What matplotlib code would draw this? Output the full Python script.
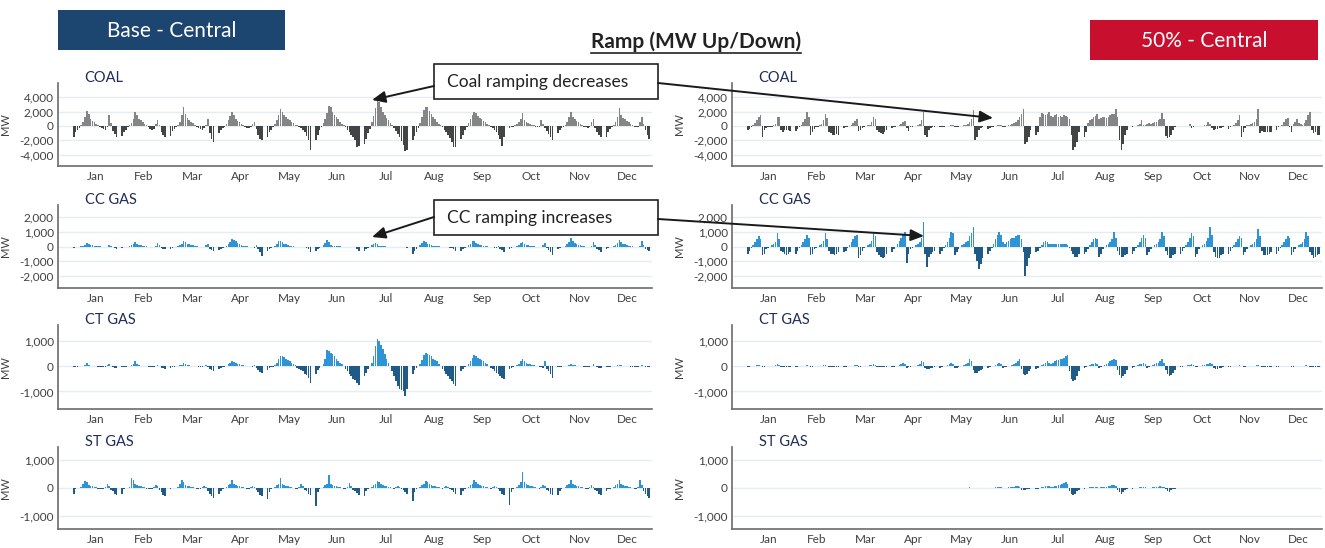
import numpy as np
import matplotlib
matplotlib.use("Agg")
import matplotlib.pyplot as plt
from matplotlib.patches import Rectangle
from matplotlib.ticker import FuncFormatter

plt.rcParams['font.family'] = ['Lato', 'DejaVu Sans']

# Month labels and average hourly ramp (MW), one row of 24 hours per month
months = ['Jan', 'Feb', 'Mar', 'Apr', 'May', 'Jun', 'Jul', 'Aug', 'Sep', 'Oct', 'Nov', 'Dec']

base_coal = [
    [-1500,-900,-600,-300,200,500,1200,2100,1600,900,700,500,300,200,-100,-300,-400,-500,-200,1500,400,-700,-1100,-1600],
    [-1400,-800,-500,-200,100,400,1000,2000,1500,1000,800,600,300,100,-200,-400,-500,-400,300,800,200,-800,-1200,-1500],
    [-1400,-700,-400,-200,200,600,1500,2700,1700,1100,800,600,400,200,-100,-300,-400,-500,-300,200,1000,-1000,-1800,-2300],
    [-1000,-600,-300,-100,300,800,1400,2000,1500,1000,700,500,300,100,-200,-300,-300,-200,300,500,-400,-1200,-1800,-2000],
    [-1600,-900,-500,-200,300,800,1500,2300,1900,1500,1200,1000,800,600,400,200,100,-100,-300,-500,-900,-1400,-2000,-3300],
    [-2000,-1200,-600,-200,400,1000,1800,2800,2600,2000,1500,1200,900,600,300,100,-200,-500,-800,-1200,-1600,-2000,-3000,-2800],
    [-2500,-1800,-1000,-400,500,1400,2500,3600,3300,2600,1900,1500,1100,800,400,100,-300,-700,-1100,-1600,-2100,-2700,-3500,-3300],
    [-2000,-1400,-800,-300,400,1200,2200,2600,2600,2100,1600,1200,900,600,300,100,-200,-500,-900,-1300,-1700,-2200,-3000,-2900],
    [-1800,-1200,-600,-200,400,1000,1500,2000,1800,1400,1100,900,700,500,300,100,-100,-300,-600,-900,-1300,-1800,-2800,-1500],
    [-300,-200,-100,100,300,500,1000,1800,800,600,400,300,200,100,-100,-200,-200,800,300,-300,-700,-1100,-1500,-2000],
    [-1000,-600,-300,-100,200,600,1200,1900,1300,900,700,500,300,200,-100,-200,-300,-200,500,900,-300,-800,-1200,-1500],
    [-1500,-800,-400,-200,200,600,1300,2500,1500,1100,900,700,500,300,100,-100,-200,-100,600,1200,300,-600,-1200,-1800],
]

base_cc = [
    [-100,-60,-40,-20,20,60,120,220,150,100,80,60,40,30,10,-10,-30,-40,-20,80,40,-60,-100,-150],
    [-120,-60,-40,-20,30,80,160,300,200,120,90,60,40,20,-20,-40,-60,-60,60,250,80,-100,-160,-200],
    [-200,-100,-50,-20,40,100,200,400,300,200,150,100,80,50,20,-10,-40,-60,-40,100,200,-150,-250,-300],
    [-250,-150,-80,-30,50,150,300,500,450,350,250,150,100,50,30,10,-20,-40,-60,-80,100,-200,-400,-650],
    [-300,-200,-100,-50,50,200,350,400,300,200,150,100,60,30,10,0,-10,-20,-30,-40,-60,-100,-200,-400],
    [-300,-200,-100,0,100,250,450,300,100,40,20,10,10,10,0,0,0,0,0,-10,-30,-60,-150,-300],
    [-300,-200,-100,0,80,150,250,150,50,20,10,10,0,0,0,0,0,0,0,-10,-20,-40,-60,-100],
    [-500,-300,-150,-50,100,250,400,300,200,150,100,60,30,20,10,0,-10,-20,-30,-50,-80,-120,-200,-300],
    [-300,-200,-100,-30,80,200,400,350,250,180,120,80,50,30,10,-10,-30,-50,-80,-100,50,-150,-250,-400],
    [-200,-120,-60,-20,40,120,250,300,200,120,80,50,30,10,-10,-30,-50,-60,100,250,-100,-250,-400,-600],
    [-200,-120,-60,-20,50,150,300,600,400,250,180,120,80,50,20,-10,-40,-60,50,300,100,-150,-250,-350],
    [-200,-120,-60,-20,50,130,250,450,300,200,150,100,60,30,10,-20,-40,-60,50,350,100,-150,-250,-300],
]

base_ct = [
    [-40,-20,-10,0,10,30,60,120,60,30,20,10,0,-10,-20,-30,-20,-10,40,100,20,-40,-60,-80],
    [-40,-20,-10,0,20,50,100,200,80,40,30,20,10,0,-20,-30,-40,-30,20,60,20,-50,-80,-120],
    [-50,-20,-10,0,20,40,70,130,90,60,40,30,20,10,0,-10,-20,-30,10,50,-40,-100,-150,-200],
    [-100,-60,-30,-10,30,80,150,200,170,140,100,80,60,40,30,20,10,0,-20,60,-60,-150,-220,-250],
    [-150,-80,-40,-10,50,150,300,400,400,380,300,250,200,150,100,50,-50,-100,-150,-200,-300,-350,-450,-650],
    [-300,-150,-60,0,100,300,650,600,550,500,400,300,200,150,100,0,-100,-200,-300,-400,-500,-550,-650,-750],
    [-400,-250,-100,0,150,400,800,1100,1000,850,700,500,300,150,0,-200,-400,-600,-800,-900,-950,-1000,-1200,-900],
    [-300,-150,-60,0,100,250,450,550,500,450,400,300,250,200,100,0,-100,-200,-300,-400,-500,-600,-700,-800],
    [-200,-100,-40,0,80,200,350,450,400,350,300,250,200,150,80,0,-60,-120,-200,-260,-320,-380,-450,-500],
    [-100,-60,-20,0,40,100,200,300,200,150,100,80,60,40,20,0,-20,-40,-80,200,-100,-200,-300,-450],
    [-40,-20,-10,0,10,30,60,100,60,40,30,20,10,0,-10,-20,-30,-20,20,80,20,-30,-50,-60],
    [-30,-20,-10,0,10,20,40,60,40,30,20,10,0,-10,-10,-20,-20,-10,10,40,10,-20,-30,-40],
]

base_st = [
    [-200,-20,-10,0,30,150,250,200,100,80,60,40,20,-20,-40,-50,-30,50,150,80,-60,-120,-200,-250],
    [-200,-30,-10,0,40,350,300,150,100,80,60,40,20,-20,-30,-40,-20,40,120,60,-80,-150,-250,-300],
    [-30,-10,-10,0,30,150,300,200,120,80,60,40,20,-10,-30,-40,-30,30,80,40,-100,-200,-300,-350],
    [-200,-100,-40,0,50,100,150,300,150,100,80,60,40,20,0,-20,-30,20,80,40,-80,-150,-250,-300],
    [-400,-150,-50,0,50,100,150,350,150,100,80,60,40,20,0,-20,-30,20,150,80,-60,-100,-200,-250],
    [-650,-150,-50,0,50,100,150,450,150,100,80,60,40,20,0,-20,-30,20,180,80,-60,-100,-180,-250],
    [-300,-120,-50,0,50,100,150,250,200,150,100,80,60,40,20,0,-20,20,60,40,-40,-80,-150,-200],
    [-450,-150,-50,0,50,100,150,250,200,150,100,80,60,40,20,0,-20,20,60,40,-40,-80,-150,-200],
    [-250,-100,-40,0,40,100,150,300,200,150,100,80,60,40,20,0,-20,20,80,50,-50,-100,-200,-250],
    [-600,-150,-50,0,50,100,200,550,200,150,100,80,60,40,20,0,-20,20,100,60,-60,-120,-200,-250],
    [-250,-100,-40,0,40,100,150,300,150,100,80,60,40,20,0,-20,-30,20,100,50,-60,-120,-200,-250],
    [-100,-50,-20,0,40,100,150,300,150,100,80,60,40,20,0,-20,-30,20,300,100,-100,-200,-300,-350],
]

half_coal = [
    [-600,-400,-200,100,400,800,1300,1500,-1500,-600,-300,-200,-100,-100,100,300,1200,1300,-500,-800,-600,-500,-600,-700],
    [-700,-400,-200,100,500,1000,2000,1200,-1300,-800,-400,-200,-100,100,300,800,1700,1100,-900,-1000,-1200,-1200,-1100,-1200],
    [-300,-200,-100,0,200,400,700,1000,-700,-500,-300,-100,0,100,200,500,1200,900,-600,-900,-1000,-1100,-800,-600],
    [-300,-200,-100,0,100,300,500,700,-300,-700,-200,-100,0,50,100,300,800,2000,-1300,-1500,-600,-300,-200,-100],
    [-200,-150,-100,-50,0,50,100,200,-100,-200,-100,0,50,100,200,300,500,1000,2200,-2000,-1500,-500,-300,-200],
    [-400,-300,-200,-100,0,100,100,200,-200,-100,0,100,200,300,400,600,800,1200,1600,2300,-2500,-2300,-1500,-500],
    [-1200,-800,1200,1800,1600,1500,1700,2000,1400,1300,1500,1600,1200,1400,1300,1500,1400,1200,1000,-1300,-3400,-3000,-2200,-800],
    [-1500,-800,400,800,1000,1200,1400,1700,1000,1100,1300,1200,1100,1300,1500,1700,1600,2300,1200,-2000,-3300,-2500,-1200,-500],
    [-100,-50,50,100,300,800,200,100,300,400,300,400,500,600,800,1000,1800,900,-1400,-1700,-1600,-1200,-600,-200],
    [-30,-20,0,20,60,250,-300,-150,-50,0,20,40,60,100,200,600,300,-300,-500,-450,-400,-350,-300,-200],
    [-400,-200,0,200,400,800,1500,-1600,-800,-300,100,200,300,400,500,1000,2400,-1000,-700,-900,-800,-900,-800,-900],
    [-500,-200,0,200,600,900,1100,-200,-800,300,600,1000,400,300,200,400,800,1500,2000,-600,-1000,-900,-1200,-1300],
]

half_cc = [
    [-500,-300,-100,100,300,500,700,500,-600,-500,-200,-100,0,100,200,300,900,500,-300,-400,-500,-600,-500,-400],
    [-500,-300,-100,100,300,500,800,600,-600,-500,-200,-100,0,100,200,400,900,500,-300,-500,-500,-600,-500,-400],
    [-400,-300,-100,100,300,500,700,800,-800,-600,-300,-100,0,100,200,400,1000,700,-400,-600,-700,-800,-700,-500],
    [-400,-200,0,200,400,600,800,1000,-1100,-500,-200,-100,0,100,200,300,600,1650,-500,-1350,-700,-500,-400,-300],
    [-500,-300,-100,100,300,600,1000,900,-600,-400,-200,0,100,200,300,400,700,900,1300,-500,-1000,-1500,-1200,-800],
    [-500,-300,-100,200,500,800,950,800,300,200,300,400,500,600,600,700,800,800,500,-400,-2000,-1300,-800,-500],
    [-400,-300,-100,100,300,400,300,200,200,200,150,150,200,200,150,150,200,100,-100,-300,-500,-700,-700,-500],
    [-500,-400,-200,100,300,500,600,500,-700,-500,-200,0,100,200,300,500,1000,600,-300,-600,-700,-700,-600,-500],
    [-500,-300,-100,100,300,600,800,600,-600,-400,-200,0,100,200,300,500,1000,700,-300,-600,-800,-800,-600,-500],
    [-500,-300,-100,100,300,600,900,700,-700,-500,-200,0,100,200,400,600,1300,800,-400,-700,-800,-800,-600,-500],
    [-500,-300,-100,100,300,500,700,600,-600,-400,-200,0,100,200,300,500,1200,700,-300,-600,-600,-600,-500,-400],
    [-500,-300,-100,100,300,500,700,600,-600,-400,-200,0,100,200,300,500,1000,700,-400,-600,-800,-700,-600,-500],
]

half_ct = [
    [-20,-10,0,10,20,40,60,30,-20,-10,0,10,10,20,30,50,80,40,-20,-30,-40,-30,-20,-10],
    [-20,-10,0,10,20,30,50,30,-20,-10,0,10,10,20,30,40,60,30,-20,-30,-30,-30,-20,-10],
    [-20,-10,0,10,20,30,50,40,-30,-20,0,10,10,20,40,60,100,50,-30,-40,-40,-30,-20,-10],
    [-40,-20,0,20,40,80,120,80,-60,-40,-20,0,10,20,40,80,200,180,-60,-100,-100,-80,-60,-40],
    [-60,-40,0,20,60,100,150,100,-80,-60,-20,0,20,40,80,150,300,200,-150,-250,-250,-200,-150,-100],
    [-60,-40,0,20,60,100,120,100,-60,-40,-20,0,20,40,80,120,200,300,-100,-300,-350,-300,-200,-100],
    [-100,-50,0,50,100,150,200,150,100,150,200,250,250,300,300,350,400,450,-200,-500,-600,-550,-400,-200],
    [-80,-40,0,40,80,100,150,100,-50,-20,30,60,100,150,200,250,300,250,-150,-350,-450,-400,-300,-150],
    [-80,-40,0,40,80,100,150,100,-50,-20,20,50,80,120,150,200,300,150,-150,-300,-400,-350,-250,-150],
    [-40,-20,0,20,40,60,80,60,-40,-20,0,20,40,60,80,100,150,80,-60,-100,-100,-80,-60,-40],
    [-20,-10,0,10,20,30,40,30,-20,-10,0,10,10,20,30,40,60,30,-20,-30,-30,-20,-20,-10],
    [-10,-10,0,10,10,20,30,20,-10,-10,0,10,10,10,20,30,40,20,-10,-20,-20,-20,-10,-10],
]

half_st = [
    [0,0,0,5,5,10,10,5,-5,0,0,0,0,5,5,10,15,10,-5,-10,-10,-5,0,0],
    [0,0,0,5,5,10,10,5,-5,0,0,0,0,5,5,10,15,10,-5,-10,-10,-5,0,0],
    [0,0,0,5,5,10,10,5,-5,0,0,0,0,5,5,10,10,10,-5,-10,-10,-5,0,0],
    [0,0,0,5,5,10,10,5,-5,0,0,0,0,5,5,10,15,10,-5,-10,-10,-5,0,0],
    [0,0,0,5,10,10,15,10,-5,0,0,5,5,10,10,15,20,10,-10,-15,-10,-5,0,0],
    [-10,-5,0,10,20,30,40,30,-10,0,10,20,30,40,50,60,80,40,-60,-80,-60,-40,-20,-10],
    [-40,-20,0,20,40,60,80,60,20,40,60,80,100,120,150,180,200,150,-100,-200,-250,-200,-120,-60],
    [-20,-10,0,20,30,40,50,30,0,20,30,40,50,60,80,100,120,80,-60,-150,-200,-150,-80,-40],
    [-20,-10,0,10,20,30,40,20,-10,0,10,20,30,40,50,60,50,30,-50,-100,-150,-80,-40,-20],
    [0,0,0,5,5,10,10,5,-5,0,0,0,0,5,5,10,10,10,-5,-10,-10,-5,0,0],
    [0,0,0,5,5,10,15,10,-5,0,0,0,5,5,10,10,15,10,-5,-10,-10,-5,0,0],
    [0,0,0,5,5,10,10,5,-5,0,0,0,0,5,5,10,10,10,-5,-10,-10,-5,0,0],
]

row_titles = ['COAL', 'CC GAS', 'CT GAS', 'ST GAS']
row_ticks = [[-4000, -2000, 0, 2000, 4000], [-2000, -1000, 0, 1000, 2000],
             [-1000, 0, 1000], [-1000, 0, 1000]]
row_ylims = [(-5600, 6000), (-2800, 2800), (-1700, 1650), (-1450, 1450)]

W, H = 1325, 548
fig = plt.figure(figsize=(W / 100, H / 100), dpi=100)

def px_axes(x0, y_top, x1, y_bot):
    return fig.add_axes([x0 / W, 1 - y_bot / H, (x1 - x0) / W, (y_bot - y_top) / H])

slot = 26
row_px = [(83, 166), (205, 288), (325, 409), (447, 529)]
col_px = [(58, 652), (732, 1322)]

grey_pos, grey_neg = '#858585', '#444444'
blue_pos, blue_neg = '#2e94d6', '#1f5b86'

panels = [[base_coal, base_cc, base_ct, base_st], [half_coal, half_cc, half_ct, half_st]]

for c, (cx0, cx1) in enumerate(col_px):
    for r, (ry0, ry1) in enumerate(row_px):
        ax = px_axes(cx0, ry0, cx1, ry1)
        data = np.array(panels[c][r], dtype=float)
        x = np.array([m * slot + h for m in range(12) for h in range(24)])
        y = data.ravel()
        if r == 0:
            cols = np.where(y >= 0, grey_pos, grey_neg)
        else:
            cols = np.where(y >= 0, blue_pos, blue_neg)
        ax.bar(x, y, width=0.85, color=cols, linewidth=0, zorder=3)
        ax.set_xlim(-8.5, 310.5)
        ax.set_ylim(*row_ylims[r])
        ax.set_yticks(row_ticks[r])
        ax.yaxis.set_major_formatter(FuncFormatter(lambda v, p: f'{v:,.0f}'))
        ax.set_xticks([m * slot + 11.5 for m in range(12)])
        ax.set_xticklabels(months)
        ax.tick_params(axis='both', length=0, labelsize=8.5, colors='#404040', pad=3)
        ax.tick_params(axis='x', pad=3.5)
        ax.grid(axis='y', color='#e3edf2', linewidth=1, zorder=0)
        for s in ['top', 'right']:
            ax.spines[s].set_visible(False)
        for s in ['left', 'bottom']:
            ax.spines[s].set_color('#6b6b6b')
            ax.spines[s].set_linewidth(1.2)
        ax.set_ylabel('MW', fontsize=8, color='#404040', labelpad=6)
        ax.text(0.045, 1.06, row_titles[r], transform=ax.transAxes, fontsize=10.5,
                color='#1f2d5a', va='center', ha='left')

# overlay in pixel coordinates for header boxes and call-outs
ov = fig.add_axes([0, 0, 1, 1], zorder=10)
ov.set_xlim(0, W)
ov.set_ylim(H, 0)
ov.axis('off')

ov.add_patch(Rectangle((58, 10), 227, 40, facecolor='#1c4670', edgecolor='none'))
ov.text(171.5, 31, 'Base - Central', color='white', fontsize=15, ha='center', va='center')
ov.add_patch(Rectangle((1090, 20), 228, 40, facecolor='#c8102e', edgecolor='none'))
ov.text(1204, 41, '50% - Central', color='white', fontsize=15, ha='center', va='center')

title = ov.text(696, 42, 'Ramp (MW Up/Down)', fontsize=15, fontweight='bold',
                color='#222222', ha='center', va='center')

for (bx, by, label) in [(434, 64, 'Coal ramping decreases'), (434, 200, 'CC ramping increases')]:
    ov.add_patch(Rectangle((bx, by), 224, 35, facecolor='white', edgecolor='#222222', linewidth=1.2))
    ov.text(bx + 13, by + 17.5, label, fontsize=12.5, color='#222222', ha='left', va='center')

arrows = [((434, 86), (372, 100)), ((658, 83), (993, 118)),
          ((434, 217), (372, 237)), ((658, 219), (924, 236))]
for start, end in arrows:
    ov.annotate('', xy=end, xytext=start,
                arrowprops=dict(arrowstyle='-|>,head_length=0.8,head_width=0.35',
                                color='#1a1a1a', lw=1.4, shrinkA=0, shrinkB=0))

fig.canvas.draw()
bb = title.get_window_extent()
ov.plot([bb.x0, bb.x1], [H - bb.y0 + 1, H - bb.y0 + 1], color='#222222', lw=1.2)

fig.savefig('out.png', dpi=100)
